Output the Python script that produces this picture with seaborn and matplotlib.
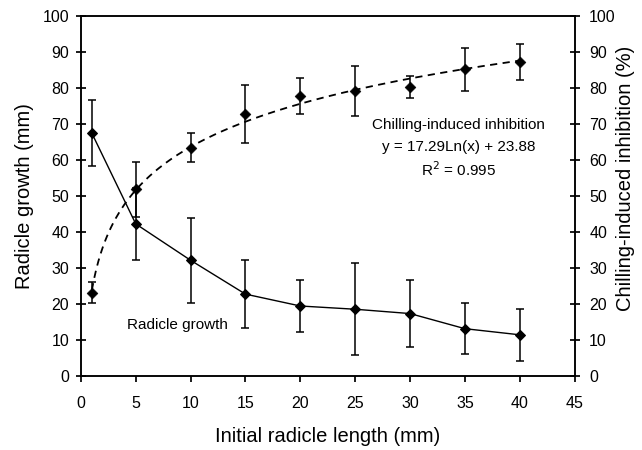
import numpy as np
import pandas as pd
import matplotlib
matplotlib.use("Agg")
import matplotlib.pyplot as plt
import seaborn as sns

sns.set_theme(style="ticks")
plt.rcParams['font.family'] = ['Liberation Sans', 'DejaVu Sans']
plt.rcParams['text.color'] = 'black'
plt.rcParams['axes.labelcolor'] = 'black'
plt.rcParams['xtick.color'] = 'black'
plt.rcParams['ytick.color'] = 'black'

# initial radicle length (mm)
lengths = [1, 5, 10, 15, 20, 25, 30, 35, 40]
# radicle growth (mm) and its error
growth = [67.5, 42.3, 32.2, 22.8, 19.5, 18.6, 17.4, 13.2, 11.5]
growth_err = [9.2, 10.1, 11.8, 9.5, 7.3, 12.8, 9.4, 7.0, 7.2]
# chilling-induced inhibition (%) and its error
inhibition = [23.2, 51.9, 63.5, 72.8, 77.9, 79.3, 80.4, 85.3, 87.4]
inhibition_err = [3.0, 7.7, 4.0, 8.1, 5.0, 7.0, 3.0, 6.0, 5.0]
# logarithmic trendline shown on the chart
fit_slope = 17.29
fit_intercept = 23.88

df = pd.DataFrame({'length': lengths, 'growth': growth, 'inhibition': inhibition})
x_fit = np.linspace(min(lengths), max(lengths), 200)
fit_df = pd.DataFrame({'length': x_fit, 'inhibition': fit_slope * np.log(x_fit) + fit_intercept})

fig, ax = plt.subplots(figsize=(6.42, 4.5), dpi=100)
fig.subplots_adjust(left=0.126, right=0.895, bottom=0.164, top=0.964)
ax2 = ax.twinx()

# radicle growth: solid line
ax.errorbar(lengths, growth, yerr=growth_err, fmt='none', ecolor='black',
            elinewidth=1.1, capsize=3, capthick=1.1)
sns.lineplot(data=df, x='length', y='growth', ax=ax, color='black', linewidth=1,
             marker='D', markersize=5.5, markeredgecolor='black')

# chilling-induced inhibition: points + dashed log fit
ax2.errorbar(lengths, inhibition, yerr=inhibition_err, fmt='none', ecolor='black',
             elinewidth=1.1, capsize=3, capthick=1.1)
sns.lineplot(data=fit_df, x='length', y='inhibition', ax=ax2, color='black',
             linewidth=1.3, linestyle=(0, (4, 3)))
sns.scatterplot(data=df, x='length', y='inhibition', ax=ax2, color='black',
                marker='D', s=30, edgecolor='black', zorder=5)

ax.set_xlim(0, 45)
ax.set_ylim(0, 100)
ax2.set_ylim(0, 100)
ax.set_xticks(range(0, 46, 5))
ax.set_yticks(range(0, 101, 10))
ax2.set_yticks(range(0, 101, 10))

ax.set_xlabel('Initial radicle length (mm)', fontsize=14.5, labelpad=12)
ax.set_ylabel('Radicle growth (mm)', fontsize=14.5, labelpad=6)
ax2.set_ylabel('Chilling-induced inhibition (%)', fontsize=14.5, labelpad=4)
ax2.yaxis.set_label_coords(1.084, 0.55)

ax.tick_params(axis='x', direction='out', length=4, labelsize=11.5, pad=10)
ax.tick_params(axis='y', direction='inout', length=7, labelsize=11.5, pad=5)
ax2.tick_params(axis='y', direction='inout', length=7, labelsize=11.5, pad=7)

for a in (ax, ax2):
    for s in a.spines.values():
        s.set_visible(True)
        s.set_color('black')
        s.set_linewidth(1.1)

ax.text(4.2, 14.2, 'Radicle growth', fontsize=11, va='center', ha='left')
ax2.text(34.4, 69.7, 'Chilling-induced inhibition', fontsize=11, ha='center', va='center')
ax2.text(34.4, 63.6, 'y = 17.29Ln(x) + 23.88', fontsize=11, ha='center', va='center')
ax2.text(34.4, 57.5, 'R$^2$ = 0.995', fontsize=11, ha='center', va='center')

plt.savefig('out.png', dpi=100)
plt.close(fig)
